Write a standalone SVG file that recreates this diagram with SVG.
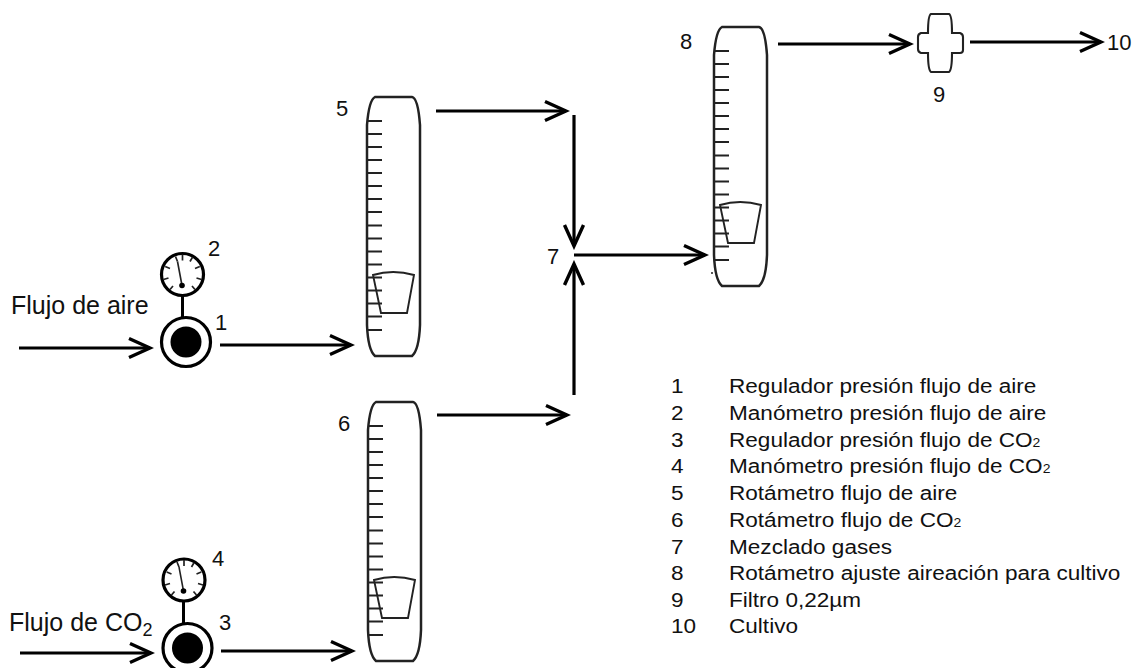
<svg xmlns="http://www.w3.org/2000/svg" xmlns:xlink="http://www.w3.org/1999/xlink" width="1134" height="668" viewBox="0 0 1134 668">
<style>
text{font-family:"Liberation Sans",Arial,sans-serif;fill:#111}
.lab{font-size:22px}
.flow{font-size:25px}
.leg{font-size:21px}
.conn{fill:none;stroke:#000;stroke-width:3.2;marker-end:url(#arrow)}
.body{fill:none;stroke:#222;stroke-width:2.5}
.tick{fill:none;stroke:#222;stroke-width:2}
.float{fill:none;stroke:#222;stroke-width:1.9}
.gface{fill:#fff;stroke:#000;stroke-width:3.2}
.gtick{fill:none;stroke:#222;stroke-width:1.7}
</style>
<defs>
<marker id="arrow" viewBox="-26 -13 30 26" refX="0" refY="0" markerWidth="30" markerHeight="26" markerUnits="userSpaceOnUse" orient="auto">
<path d="M-21,-9.5 L0,0 L-21,9.5" fill="none" stroke="#000" stroke-width="3.4"/>
</marker>
<g id="rot">
<path class="body" d="M375,97 H412 Q418,98 420,125 V325 Q419,350 412,356 H375 Q368,350 367,325 V125 Q369,100 375,97 Z"/>
<path class="tick" d="M367,121H382M367,134H382M367,147H382M367,160H382M367,173H382M367,186H382M367,199H382M367,212H382M367,225.500H382M367,238.500H382M367,251.500H382M367,264.500H382M367,277.500H382M367,290.500H382M367,303.500H382M367,316.500H382M367,330H382"/>
<path class="float" d="M373,275 Q393,269 414,275 L407,313 H381 Z"/>
</g>
<g id="gauge">
<circle class="gface" r="21"/>
<path class="gtick" d="M0,-20V-14M10,-17.300L7.500,-13M17.300,-8L12.500,-6M19,5L14,3.500M12.500,15L9.500,11.500M-12.500,15L-9.500,11.500M-19,5L-14,3.500M-17.300,-8L-12.500,-6M-7,-18L-5,-13"/>
<path d="M-5,-13L-0.500,11" fill="none" stroke="#222" stroke-width="1.6"/>
<circle cx="-0.500" cy="11" r="2.800" fill="#000"/>
</g>
<g id="reg">
<circle r="24.500" fill="#fff" stroke="#000" stroke-width="3.2"/>
<circle r="15.500" fill="#000"/>
</g>
</defs>
<rect width="1134" height="668" fill="#fff"/>
<g id="connectors">
<line class="conn" x1="19" y1="348" x2="150" y2="348"/>
<line class="conn" x1="220" y1="345" x2="351" y2="345"/>
<line class="conn" x1="20" y1="653" x2="151" y2="653"/>
<line class="conn" x1="221" y1="651" x2="352" y2="651"/>
<line class="conn" x1="436" y1="111" x2="566" y2="111"/>
<line class="conn" x1="437" y1="415" x2="567" y2="415"/>
<line class="conn" x1="574" y1="115" x2="574" y2="246"/>
<line class="conn" x1="574" y1="395" x2="574" y2="264"/>
<line class="conn" x1="574" y1="255" x2="705" y2="255"/>
<line class="conn" x1="778" y1="44" x2="910" y2="44"/>
<line class="conn" x1="970" y1="42" x2="1101" y2="42"/>
<line x1="182.500" y1="295" x2="182.500" y2="318" stroke="#000" stroke-width="3"/>
<line x1="183.500" y1="601" x2="183.500" y2="624" stroke="#000" stroke-width="3"/>
</g>
<g id="n1"><use href="#reg" x="186" y="342"/><text class="lab" x="215" y="330">1</text></g>
<g id="n2"><use href="#gauge" x="182.500" y="274.500"/><text class="lab" x="208" y="256">2</text></g>
<g id="n3"><use href="#reg" x="187.500" y="648"/><text class="lab" x="219" y="630">3</text></g>
<g id="n4"><use href="#gauge" x="184" y="580"/><text class="lab" x="212" y="566">4</text></g>
<g id="n5"><use href="#rot"/><text class="lab" x="336" y="116">5</text></g>
<g id="n6"><use href="#rot" x="1" y="305"/><text class="lab" x="338" y="431">6</text></g>
<g id="n7"><text class="lab" x="547" y="264">7</text></g>
<g id="n8"><use href="#rot" x="347" y="-70"/><path d="M712,272v2" stroke="#222" stroke-width="1.500"/><text class="lab" x="680" y="49">8</text></g>
<g id="n9"><path d="M931,14 H949 Q952,15 952,33 H960 Q963,34 963,37 V50 Q963,53 960,53 H952 Q952,70 949,72 H931 Q928,70 928,53 H921 Q918,52 918,49 V37 Q918,34 921,33 H928 Q928,15 931,14 Z" fill="none" stroke="#222" stroke-width="2.100"/><text class="lab" x="933" y="102">9</text></g>
<g id="n10"><text class="lab" x="1107" y="50">10</text></g>
<g id="flow-labels">
<text class="flow" x="11" y="314">Flujo de aire</text>
<text class="flow" x="9" y="631">Flujo de CO<tspan font-size="18" dy="5">2</tspan></text>
</g>
<g id="legend">
<g transform="translate(671,0) scale(1.075,1)">
<text class="leg" y="393.500">1</text><text class="leg" y="420">2</text><text class="leg" y="447">3</text><text class="leg" y="473.500">4</text><text class="leg" y="500.500">5</text><text class="leg" y="527">6</text><text class="leg" y="554">7</text><text class="leg" y="580.500">8</text><text class="leg" y="607">9</text><text class="leg" y="633.500">10</text>
</g>
<g transform="translate(729,0) scale(1.075,1)">
<text class="leg" y="393.500">Regulador presión flujo de aire</text>
<text class="leg" y="420">Manómetro presión flujo de aire</text>
<text class="leg" y="447">Regulador presión flujo de CO<tspan font-size="13">2</tspan></text>
<text class="leg" y="473.500">Manómetro presión flujo de CO<tspan font-size="13">2</tspan></text>
<text class="leg" y="500.500">Rotámetro flujo de aire</text>
<text class="leg" y="527">Rotámetro flujo de CO<tspan font-size="13">2</tspan></text>
<text class="leg" y="554">Mezclado gases</text>
<text class="leg" y="580.500">Rotámetro ajuste aireación para cultivo</text>
<text class="leg" y="607">Filtro 0,22µm</text>
<text class="leg" y="633.500">Cultivo</text>
</g>
</g>
</svg>
